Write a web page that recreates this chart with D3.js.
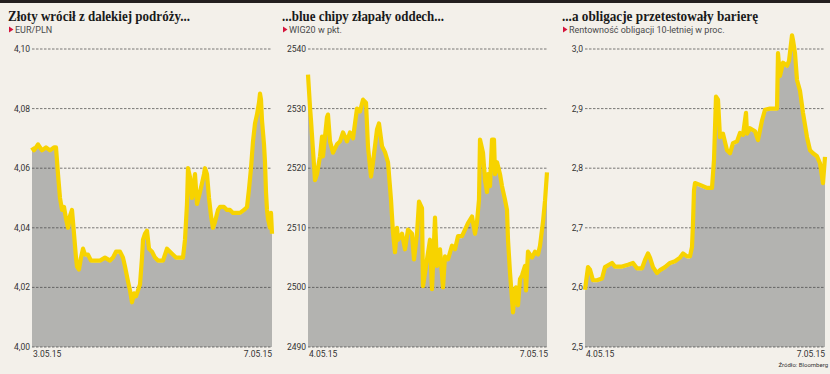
<!DOCTYPE html>
<html>
<head>
<meta charset="utf-8">
<script src="https://cdn.jsdelivr.net/npm/d3@7"></script>
<style>
body { margin: 0; background: #f3f0ea; }
svg { display: block; }
</style>
</head>
<body>
<script>
// czas w godzinach od poczatku okresu (0..96)
var eurT = [0,0.8,2.4,4,5.6,7.2,8.8,9.6,10.4,11.2,12,12.8,13.6,14.4,15.2,16,16.8,17.6,18,18.8,19.6,20.4,21.2,22.4,23.6,25.2,27.2,29.2,31.2,32.4,33.6,35.2,36.4,37.2,38.4,39.2,40,40.8,41.6,42.4,43.2,44,44.4,45.2,46,46.8,48,49.2,50.4,52.4,53.2,54,55.2,56.4,57.6,60.4,61.2,62,62.4,63.2,64,65.2,66,67.2,68,68.8,69.2,70,70.8,71.6,72.4,73.2,74.4,75.2,76.8,78,79.2,80.4,82,83.2,84.8,86,86.8,87.6,88.4,89.2,90,90.8,91.2,91.6,92,92.8,93.2,93.6,94,94.4,95.2,95.6,96];
var eurV = [4.067,4.066,4.068,4.066,4.067,4.066,4.067,4.067,4.058,4.050,4.046,4.047,4.043,4.040,4.044,4.046,4.038,4.030,4.027,4.026,4.030,4.033,4.031,4.031,4.029,4.029,4.029,4.030,4.029,4.030,4.032,4.032,4.030,4.027,4.022,4.019,4.015,4.018,4.017,4.019,4.021,4.030,4.036,4.038,4.039,4.033,4.032,4.030,4.029,4.029,4.031,4.033,4.032,4.031,4.030,4.030,4.036,4.048,4.060,4.057,4.050,4.058,4.048,4.052,4.055,4.058,4.060,4.058,4.050,4.044,4.040,4.042,4.046,4.047,4.047,4.046,4.046,4.045,4.045,4.045,4.046,4.047,4.053,4.060,4.069,4.075,4.078,4.082,4.085,4.083,4.076,4.068,4.062,4.052,4.046,4.043,4.040,4.045,4.038];

var wigT = [0,0.8,1.2,2,2.8,3.6,4.8,5.6,6,7.6,8,8.8,10,11.6,12.8,14,15.6,16.8,18,19.6,20.8,22,23.2,24,25.2,26,27.6,28.4,29.6,30.8,32,33.2,34,34.8,35.6,36,37.6,38.8,40,41.6,42.4,43.6,44.4,45.6,46,47.6,48.8,49.6,50.4,50.8,51.6,52.8,54,54.8,56,57.6,58.8,60,61.6,62.8,64,65.6,66.8,67.6,68.4,68.8,70,70.8,71.6,72,72.8,73.6,74.4,74.8,75.6,76.8,77.6,78.8,79.6,80,80.8,82,82.8,83.2,84,84.8,85.6,86.8,87.2,88,89.6,90.8,92,92.8,94,94.8,95.6];
var wigV = [2535.7,2530.3,2528,2523,2518,2519,2522,2525.3,2522,2528.6,2529,2524.5,2522.6,2524,2524.5,2526,2524.5,2526,2525,2530,2529.5,2531.5,2531,2523.6,2518.6,2521,2526.5,2527.5,2523.7,2522.7,2521,2514.7,2509.2,2505.9,2510,2508,2509,2506.4,2509.7,2509,2504.7,2509,2514.4,2513.3,2500.2,2504.7,2508,2499.7,2507.6,2511.7,2503.6,2506.4,2500,2505.2,2504.7,2507,2506.4,2508.6,2508.6,2509.7,2510.8,2511.9,2509,2511,2514.7,2524.8,2522.6,2518,2516,2519,2517,2524.8,2524.8,2519,2521,2519,2517,2514.7,2513,2508,2502.5,2495.8,2499.7,2500,2497,2501.4,2502,2503.6,2499.5,2506,2505,2506,2505.5,2507,2511,2514.5,2519.3];

var bondT = [0,1.2,2,3.2,4.8,6.8,8,10.8,12,14.8,17.2,19.2,20.8,22.8,24,25.2,26,27.2,28.8,30,32,34,36,38,39.2,40.8,42,42.8,43.2,43.6,44,46,48.8,50.8,51.6,52.4,53.2,54,55.2,56.8,58,59.2,60.8,62,63.2,64.4,64.8,66,68,69.2,70.8,72,74,76.8,77.2,78,79.2,80.8,81.6,82.8,83.2,84,84.8,86,87.2,88.8,90,91.2,92.8,94,95.2,96];
var bondV = [2.596,2.634,2.63,2.612,2.612,2.615,2.634,2.641,2.635,2.635,2.638,2.641,2.632,2.632,2.646,2.657,2.65,2.634,2.624,2.629,2.634,2.641,2.644,2.65,2.657,2.652,2.652,2.668,2.708,2.763,2.775,2.772,2.767,2.767,2.814,2.92,2.915,2.852,2.858,2.83,2.825,2.842,2.845,2.859,2.856,2.893,2.858,2.867,2.862,2.847,2.88,2.898,2.9,2.9,2.993,2.955,2.977,2.972,2.98,3.023,3.015,2.993,2.948,2.93,2.893,2.852,2.83,2.825,2.82,2.808,2.775,2.819];

var eurTicks = [4.00,4.02,4.04,4.06,4.08,4.10];
var wigTicks = [2490,2500,2510,2520,2530,2540];
var bondTicks = [2.5,2.6,2.7,2.8,2.9,3.0];

var titles = ["Złoty wrócił z dalekiej podróży...", "...blue chipy złapały oddech...", "...a obligacje przetestowały barierę"];
var subtitles = ["EUR/PLN", "WIG20 w pkt.", "Rentowność obligacji 10-letniej w proc."];
var dateLabels = [["3.05.15","7.05.15"], ["4.05.15","7.05.15"], ["4.05.15","7.05.15"]];

var width = 830, height = 374;
var svg = d3.select("body").append("svg")
  .attr("width", width)
  .attr("height", height);

svg.append("rect").attr("width", width).attr("height", height).attr("fill", "#f3f0ea");
svg.append("rect").attr("width", width).attr("height", 3).attr("fill", "#231f20");

var panels = [
  {left: 8,   plotL: 32,  t: eurT,  v: eurV,  ticks: eurTicks,  fmt: function(d){ return d3.format(".2f")(d).replace(".", ","); }},
  {left: 282, plotL: 308, t: wigT,  v: wigV,  ticks: wigTicks,  fmt: function(d){ return d; }},
  {left: 562, plotL: 585, t: bondT, v: bondV, ticks: bondTicks, fmt: function(d){ return d3.format(".1f")(d).replace(".", ","); }}
];
var titleW = [182, 162, 196];

panels.forEach(function(p, i) {
  var plotW = 240;
  var x = d3.scaleLinear().domain([0, 96]).range([p.plotL, p.plotL + plotW]);
  var y = d3.scaleLinear().domain([p.ticks[0], p.ticks[p.ticks.length-1]]).range([347, 49]);
  var data = p.t.map(function(t, k){ return {t: t, v: p.v[k]}; });

  // tytul
  svg.append("text")
    .attr("x", p.left).attr("y", 21)
    .attr("textLength", titleW[i]).attr("lengthAdjust", "spacingAndGlyphs")
    .style("font-family", "'Liberation Serif', serif")
    .style("font-weight", "bold")
    .style("font-size", "14.5px")
    .attr("fill", "#1a1a1a")
    .text(titles[i]);

  svg.append("path")
    .attr("d", "M" + (p.left+1) + ",26.5 L" + (p.left+5.5) + ",29.5 L" + (p.left+1) + ",32.5 Z")
    .attr("fill", "#d5143c");
  svg.append("text")
    .attr("x", p.left + 7).attr("y", 32.5)
    .style("font-family", "Roboto, sans-serif")
    .style("font-size", "9px")
    .attr("fill", "#4a4a4a")
    .text(subtitles[i]);

  // wypelnienie
  var area = d3.area()
    .x(function(d){ return x(d.t); })
    .y0(y(p.ticks[0]))
    .y1(function(d){ return y(d.v) + 2; });
  svg.append("path").datum(data)
    .attr("d", area)
    .attr("fill", "#b3b3b0");

  // siatka
  svg.selectAll(null).data(p.ticks).enter().append("line")
    .attr("x1", p.plotL).attr("x2", p.plotL + plotW)
    .attr("y1", function(d){ return y(d); })
    .attr("y2", function(d){ return y(d); })
    .attr("stroke", "#444")
    .attr("stroke-width", 0.7)
    .attr("stroke-dasharray", "2.5,1.5");

  svg.selectAll(null).data(p.ticks).enter().append("text")
    .attr("x", p.plotL - 2)
    .attr("y", function(d){ return y(d) + 3; })
    .attr("text-anchor", "end")
    .style("font-family", "Roboto, sans-serif")
    .style("font-size", "8.5px")
    .attr("fill", "#333")
    .text(p.fmt);

  // linia
  var line = d3.line()
    .x(function(d){ return x(d.t); })
    .y(function(d){ return y(d.v); });
  svg.append("path").datum(data)
    .attr("d", line)
    .attr("fill", "none")
    .attr("stroke", "#f7d300")
    .attr("stroke-width", 4.2)
    .attr("stroke-linejoin", "round");

  // daty
  svg.append("text")
    .attr("x", p.plotL + 1).attr("y", 357)
    .style("font-family", "Roboto, sans-serif")
    .style("font-size", "8.5px")
    .attr("fill", "#333")
    .text(dateLabels[i][0]);
  svg.append("text")
    .attr("x", p.plotL + plotW).attr("y", 357)
    .attr("text-anchor", "end")
    .style("font-family", "Roboto, sans-serif")
    .style("font-size", "8.5px")
    .attr("fill", "#333")
    .text(dateLabels[i][1]);
});

svg.append("text")
  .attr("x", 828).attr("y", 367)
  .attr("text-anchor", "end")
  .style("font-family", "Roboto, sans-serif")
  .style("font-size", "6px")
  .attr("fill", "#333")
  .text("Źródło: Bloomberg");
</script>
</body>
</html>
